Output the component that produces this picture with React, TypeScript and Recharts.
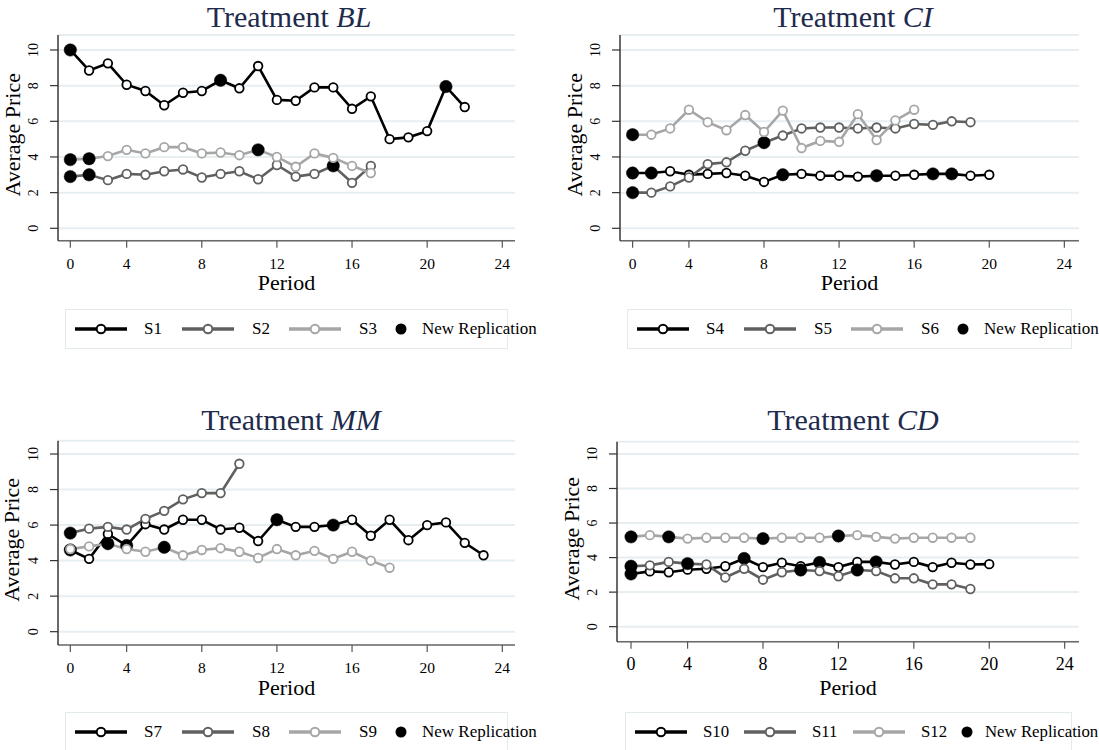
import React from 'react';
import { LineChart, Line, XAxis, YAxis, CartesianGrid } from 'recharts';

const SERIF = '"Liberation Serif", "Times New Roman", "DejaVu Serif", serif';

// ---------- tick labels ----------
const xTickValues = [1, 4, 8, 12, 16, 20, 24];
const xTickLabels = ['0', '4', '8', '12', '16', '20', '24'];
const yTickValues = [0, 2, 4, 6, 8, 10];

// ---------- Treatment BL ----------
const s1 = [10.0, 8.85, 9.25, 8.05, 7.7, 6.9, 7.6, 7.7, 8.3, 7.85, 9.1, 7.2, 7.15, 7.9, 7.9, 6.7, 7.4, 5.0, 5.1, 5.45, 7.95, 6.8];
const s1New = [0, 8, 20];
const s2 = [2.9, 3.0, 2.7, 3.05, 3.0, 3.2, 3.3, 2.85, 3.05, 3.2, 2.75, 3.55, 2.9, 3.05, 3.5, 2.55, 3.5];
const s2New = [0, 1, 14];
const s3 = [3.85, 3.9, 4.05, 4.4, 4.2, 4.55, 4.55, 4.2, 4.25, 4.1, 4.4, 4.0, 3.45, 4.2, 3.95, 3.5, 3.1];
const s3New = [0, 1, 10];

// ---------- Treatment CI ----------
const s4 = [3.1, 3.1, 3.2, 3.0, 3.05, 3.1, 2.95, 2.6, 3.0, 3.05, 2.95, 2.95, 2.9, 2.95, 2.95, 3.0, 3.05, 3.05, 2.95, 3.0];
const s4New = [0, 1, 8, 13, 16, 17];
const s5 = [2.0, 2.0, 2.35, 2.85, 3.6, 3.7, 4.35, 4.8, 5.2, 5.6, 5.65, 5.65, 5.6, 5.65, 5.6, 5.85, 5.8, 6.0, 5.95];
const s5New = [0, 7];
const s6 = [5.25, 5.25, 5.6, 6.65, 5.95, 5.5, 6.35, 5.4, 6.6, 4.5, 4.9, 4.85, 6.4, 4.95, 6.05, 6.65];
const s6New = [0];

// ---------- Treatment MM ----------
const s7 = [4.6, 4.1, 5.5, 4.85, 6.05, 5.75, 6.3, 6.3, 5.75, 5.85, 5.1, 6.3, 5.9, 5.9, 6.0, 6.3, 5.4, 6.3, 5.15, 6.0, 6.15, 5.0, 4.3];
const s7New = [0, 3, 11, 14];
const s8 = [5.55, 5.8, 5.9, 5.75, 6.35, 6.8, 7.45, 7.8, 7.8, 9.45];
const s8New = [0];
const s9 = [4.65, 4.8, 4.95, 4.65, 4.5, 4.75, 4.3, 4.6, 4.7, 4.5, 4.15, 4.65, 4.3, 4.55, 4.1, 4.5, 4.0, 3.6];
const s9New = [2, 5];

// ---------- Treatment CD ----------
const s10 = [3.05, 3.2, 3.15, 3.3, 3.35, 3.5, 3.95, 3.45, 3.7, 3.5, 3.72, 3.45, 3.75, 3.75, 3.6, 3.75, 3.45, 3.7, 3.6, 3.62];
const s10New = [0, 6, 10, 13];
const s11 = [3.5, 3.55, 3.75, 3.65, 3.6, 2.85, 3.35, 2.72, 3.15, 3.28, 3.22, 2.92, 3.28, 3.22, 2.8, 2.8, 2.45, 2.45, 2.18];
const s11New = [0, 3, 9, 12];
const s12 = [5.2, 5.3, 5.2, 5.1, 5.15, 5.15, 5.15, 5.1, 5.15, 5.15, 5.15, 5.25, 5.3, 5.2, 5.1, 5.15, 5.15, 5.15, 5.15];
const s12New = [0, 2, 7, 11];

const C1 = '#000000';
const C2 = '#606060';
const C3 = '#a6a6a6';

type Series = { name: string; values: number[]; newRep: number[]; color: string };
type PanelCfg = {
  italic: string;
  series: Series[];
  titleX: number;
  titleTop: number;
  axisX: number;
  chartTop: number;
  plotTop: number;
  plotBottom: number;
  plotW: number;
  xDomain: [number, number];
  yDomain: [number, number];
  xTickFont: number;
  xTickMargin: number;
  periodOffset: number;
  legend: { left: number; top: number; w: number; h: number; sx: number[]; lx: number[]; dotX: number; nrX: number; fs: number };
};

const legTop = { left: 65, w: 443, sx: [9, 116, 223], lx: [78, 186, 293], dotX: 335, nrX: 356, fs: 17 };

const panels: PanelCfg[] = [
  {
    italic: 'BL',
    series: [
      { name: 'S1', values: s1, newRep: s1New, color: C1 },
      { name: 'S2', values: s2, newRep: s2New, color: C2 },
      { name: 'S3', values: s3, newRep: s3New, color: C3 },
    ],
    titleX: 289, titleTop: 2,
    axisX: 58, chartTop: 0, plotTop: 35, plotBottom: 240.7, plotW: 457,
    xDomain: [0.345, 24.676], yDomain: [-0.695, 10.84],
    xTickFont: 15.5, xTickMargin: 10, periodOffset: 49,
    legend: { ...legTop, top: 309, h: 40 },
  },
  {
    italic: 'CI',
    series: [
      { name: 'S4', values: s4, newRep: s4New, color: C1 },
      { name: 'S5', values: s5, newRep: s5New, color: C2 },
      { name: 'S6', values: s6, newRep: s6New, color: C3 },
    ],
    titleX: 853, titleTop: 2,
    axisX: 620, chartTop: 0, plotTop: 35, plotBottom: 240.7, plotW: 459,
    xDomain: [0.329, 24.78], yDomain: [-0.695, 10.84],
    xTickFont: 15.5, xTickMargin: 10, periodOffset: 49,
    legend: { ...legTop, left: 627, w: 445, top: 309, h: 40 },
  },
  {
    italic: 'MM',
    series: [
      { name: 'S7', values: s7, newRep: s7New, color: C1 },
      { name: 'S8', values: s8, newRep: s8New, color: C2 },
      { name: 'S9', values: s9, newRep: s9New, color: C3 },
    ],
    titleX: 291, titleTop: 405,
    axisX: 58, chartTop: 404, plotTop: 440.7, plotBottom: 645, plotW: 457,
    xDomain: [0.345, 24.676], yDomain: [-0.75, 10.75],
    xTickFont: 15.5, xTickMargin: 10, periodOffset: 50,
    legend: { ...legTop, top: 712, h: 40 },
  },
  {
    italic: 'CD',
    series: [
      { name: 'S10', values: s10, newRep: s10New, color: C1 },
      { name: 'S11', values: s11, newRep: s11New, color: C2 },
      { name: 'S12', values: s12, newRep: s12New, color: C3 },
    ],
    titleX: 853, titleTop: 405,
    axisX: 617, chartTop: 404, plotTop: 441.7, plotBottom: 641.7, plotW: 462,
    xDomain: [0.257, 24.76], yDomain: [-0.87, 10.71],
    xTickFont: 18, xTickMargin: 9, periodOffset: 53,
    legend: { left: 625, w: 447, top: 712, h: 40, sx: [9, 118, 227], lx: [77, 186, 295], dotX: 341, nrX: 359, fs: 16.8 },
  },
];

const Y_AXIS_W = 58;

const makeDot = (s: Series) => (props: any) => {
  const { cx, cy, index, value } = props;
  if (value === null || value === undefined || cx == null || cy == null || isNaN(cy)) {
    return <g key={`e-${s.name}-${index}`} />;
  }
  if (s.newRep.includes(index)) {
    return <circle key={`d-${s.name}-${index}`} cx={cx} cy={cy} r={6.2} fill="#000" stroke="#000" strokeWidth={0.5} />;
  }
  return <circle key={`d-${s.name}-${index}`} cx={cx} cy={cy} r={4.3} fill="#fff" stroke={s.color} strokeWidth={1.8} />;
};

const YTick = (props: any) => {
  const { x, y, payload } = props;
  const bx = x - 10;
  return (
    <text x={bx} y={y} transform={`rotate(-90 ${bx} ${y})`} textAnchor="middle" fontFamily={SERIF} fontSize={14} fill="#000">
      {payload.value}
    </text>
  );
};

function Panel({ cfg }: { cfg: PanelCfg }) {
  const n = Math.max(...cfg.series.map((s) => s.values.length));
  const data = Array.from({ length: n }, (_, i) => {
    const row: any = { period: i + 1 };
    cfg.series.forEach((s, k) => {
      row['v' + k] = i < s.values.length ? s.values[i] : null;
    });
    return row;
  });
  const mTop = cfg.plotTop - cfg.chartTop;
  const plotH = cfg.plotBottom - cfg.plotTop;
  const xAxisH = 70;
  const mRight = 16;
  const chartW = Y_AXIS_W + cfg.plotW + mRight;
  const chartH = mTop + plotH + xAxisH;
  const L = cfg.legend;

  return (
    <>
      <div
        style={{
          position: 'absolute', left: cfg.titleX - 200, width: 400, top: cfg.titleTop,
          textAlign: 'center', fontFamily: SERIF, fontSize: 30, lineHeight: '30px',
          color: '#1e2b4c', whiteSpace: 'nowrap',
        }}
      >
        Treatment <i>{cfg.italic}</i>
      </div>
      <div style={{ position: 'absolute', left: cfg.axisX - Y_AXIS_W, top: cfg.chartTop }}>
        <LineChart width={chartW} height={chartH} data={data} margin={{ top: mTop, right: mRight, bottom: 0, left: 0 }}>
          <CartesianGrid vertical={false} stroke="#e6eef2" strokeWidth={2} />
          <XAxis
            dataKey="period"
            type="number"
            domain={cfg.xDomain}
            ticks={xTickValues}
            interval={0}
            allowDataOverflow
            height={xAxisH}
            stroke="#6a6a6a"
            strokeWidth={1.5}
            tickSize={7}
            tickMargin={cfg.xTickMargin}
            tickLine={{ stroke: '#555', strokeWidth: 1.2 }}
            tickFormatter={(v: number) => xTickLabels[xTickValues.indexOf(v)] ?? String(v)}
            tick={{ fill: '#000', fontSize: cfg.xTickFont, fontFamily: SERIF }}
            label={(p: any) => {
              const vb = p.viewBox;
              return (
                <text x={vb.x + vb.width / 2} y={vb.y + cfg.periodOffset} textAnchor="middle" fontFamily={SERIF} fontSize={22} fill="#000">
                  Period
                </text>
              );
            }}
          />
          <YAxis
            type="number"
            domain={cfg.yDomain}
            ticks={yTickValues}
            interval={0}
            allowDataOverflow
            width={Y_AXIS_W}
            stroke="#1a1a1a"
            strokeWidth={1.3}
            tickSize={8}
            tickLine={{ stroke: '#333', strokeWidth: 1.2 }}
            tick={<YTick />}
            label={(p: any) => {
              const vb = p.viewBox;
              const cx = vb.x + 19.5;
              const cy = vb.y + vb.height / 2 - 3;
              return (
                <text x={cx} y={cy} transform={`rotate(-90 ${cx} ${cy})`} textAnchor="middle" fontFamily={SERIF} fontSize={22} fill="#000">
                  Average Price
                </text>
              );
            }}
          />
          {cfg.series.map((s, k) => (
            <Line
              key={s.name}
              dataKey={'v' + k}
              type="linear"
              stroke={s.color}
              strokeWidth={2.6}
              dot={makeDot(s)}
              activeDot={false}
              connectNulls={false}
              isAnimationActive={false}
            />
          ))}
        </LineChart>
      </div>
      <div
        style={{
          position: 'absolute', left: L.left, top: L.top, width: L.w, height: L.h,
          border: '1px solid #e2eaec', boxSizing: 'border-box', fontFamily: SERIF, color: '#000',
        }}
      >
        {cfg.series.map((s, k) => (
          <React.Fragment key={s.name}>
            <svg style={{ position: 'absolute', left: L.sx[k], top: L.h / 2 - 9 }} width={52} height={16}>
              <line x1={0} y1={8} x2={52} y2={8} stroke={s.color} strokeWidth={3.5} />
              <circle cx={26} cy={8} r={4.3} fill="#fff" stroke={s.color} strokeWidth={2} />
            </svg>
            <span style={{ position: 'absolute', left: L.lx[k], top: 0, lineHeight: `${L.h - 2}px`, fontSize: L.fs, whiteSpace: 'nowrap' }}>
              {s.name}
            </span>
          </React.Fragment>
        ))}
        <svg style={{ position: 'absolute', left: L.dotX - 7, top: L.h / 2 - 8 }} width={14} height={14}>
          <circle cx={7} cy={7} r={5.5} fill="#000" />
        </svg>
        <span style={{ position: 'absolute', left: L.nrX, top: 0, lineHeight: `${L.h - 2}px`, fontSize: L.fs, whiteSpace: 'nowrap' }}>
          New Replication
        </span>
      </div>
    </>
  );
}

export default function App() {
  return (
    <div
      style={{
        position: 'absolute', left: 0, top: 0, width: 1099, height: 750,
        overflow: 'hidden', background: '#fff', fontFamily: SERIF,
      }}
    >
      {panels.map((p) => (
        <Panel key={p.italic} cfg={p} />
      ))}
    </div>
  );
}
